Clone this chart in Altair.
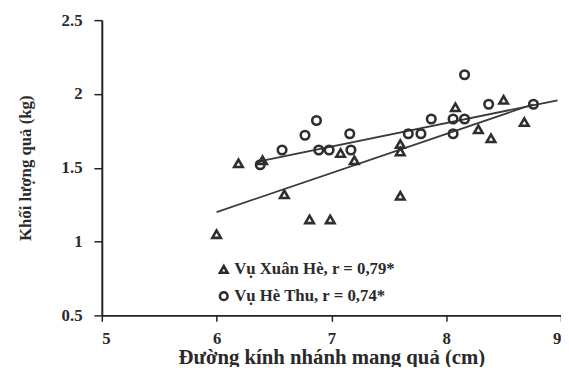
import altair as alt
import pandas as pd

# Vụ Xuân Hè (triangles)
xh_x = [6.0, 6.19, 6.4, 6.59, 6.81, 6.99, 7.08, 7.2, 7.6, 7.6, 7.6, 8.08, 8.28, 8.39, 8.5, 8.68]
xh_y = [1.05, 1.53, 1.55, 1.32, 1.15, 1.15, 1.60, 1.55, 1.31, 1.61, 1.66, 1.91, 1.76, 1.70, 1.96, 1.81]

# Vụ Hè Thu (circles)
ht_x = [6.38, 6.57, 6.77, 6.87, 6.89, 6.98, 7.16, 7.17, 7.67, 7.78, 7.87, 8.06, 8.06, 8.16, 8.16, 8.37, 8.76]
ht_y = [1.52, 1.62, 1.72, 1.82, 1.62, 1.62, 1.73, 1.62, 1.73, 1.73, 1.83, 1.83, 1.73, 1.83, 2.13, 1.93, 1.93]

# regression line endpoints
xh_line_x = [6.0, 8.76]
xh_line_y = [1.20, 1.93]
ht_line_x = [6.35, 8.97]
ht_line_y = [1.54, 1.957]

lab_xh = "Vụ Xuân Hè, r = 0,79*"
lab_ht = "Vụ Hè Thu, r = 0,74*"

pts = pd.DataFrame({
    "x": xh_x + ht_x,
    "y": xh_y + ht_y,
    "s": [lab_xh] * len(xh_x) + [lab_ht] * len(ht_x),
})
lines = pd.DataFrame({
    "x": xh_line_x + ht_line_x,
    "y": xh_line_y + ht_line_y,
    "s": ["xh"] * 2 + ["ht"] * 2,
})

FONT = "Liberation Serif"
INK = "#2a2a2a"
AX = "#222222"

xs = alt.Scale(domain=[5, 9], nice=False, zero=False)
ys = alt.Scale(domain=[0.5, 2.5], nice=False, zero=False)

common = dict(grid=False, domainColor=AX, domainWidth=2, tickColor=AX, tickWidth=1.5,
              labelFont=FONT, labelFontSize=17, labelColor=INK, labelFontWeight="bold",
              titleFont=FONT, titleColor=INK, titleFontWeight="bold")

xaxis = alt.Axis(values=[5, 6, 7, 8, 9], format="d", title="Đường kính nhánh mang quả (cm)",
                 tickSize=6, labelPadding=9, titlePadding=1, titleFontSize=21, **common)
yaxis = alt.Axis(values=[0.5, 1, 1.5, 2, 2.5], title="Khối lượng quả (kg)",
                 tickSize=8, labelPadding=12, titlePadding=27, titleFontSize=17,
                 labelExpr="datum.value == 2 || datum.value == 1 ? format(datum.value, 'd') : format(datum.value, '.1f')",
                 **common)

line_layer = alt.Chart(lines).mark_line(color="#3a3a3a", strokeWidth=1.8).encode(
    x=alt.X("x:Q", scale=xs, axis=xaxis),
    y=alt.Y("y:Q", scale=ys, axis=yaxis),
    detail="s:N",
)

point_layer = alt.Chart(pts).mark_point(filled=False, strokeWidth=2.6, size=75, opacity=1).encode(
    x=alt.X("x:Q", scale=xs),
    y=alt.Y("y:Q", scale=ys),
    shape=alt.Shape("s:N", scale=alt.Scale(domain=[lab_xh, lab_ht], range=["triangle-up", "circle"]),
                    legend=alt.Legend(title=None, orient="none", legendX=115, legendY=244,
                                      labelFont=FONT, labelFontSize=17, labelColor=INK,
                                      labelFontWeight="bold", labelLimit=400,
                                      symbolStrokeColor="#2a2a2a", symbolStrokeWidth=2.6,
                                      symbolSize=60, rowPadding=8, labelOffset=2)),
    color=alt.value("#2e2e2e"),
)

chart = alt.layer(line_layer, point_layer).properties(
    width=465, height=299,
    background="white",
    autosize=alt.AutoSizeParams(type="none"),
    padding={"left": 95, "top": 10, "right": 0, "bottom": 50},
).configure_view(stroke=None)

chart.save("out.html", embed_options={"renderer": "svg", "actions": False})
